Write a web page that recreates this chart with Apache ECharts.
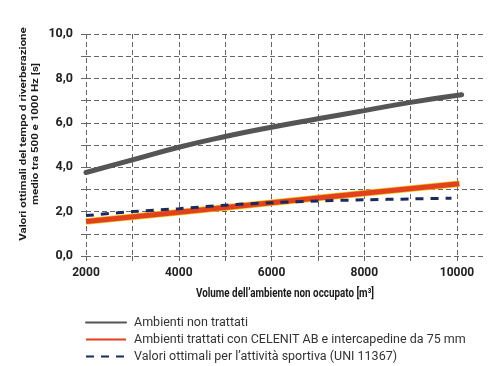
<!DOCTYPE html>
<html>
<head>
<meta charset="utf-8">
<script src="https://cdn.jsdelivr.net/npm/echarts@6/dist/echarts.min.js"></script>
<style>html,body{margin:0;padding:0;background:#fff}#c{width:501px;height:366px}</style>
</head>
<body>
<div id="c"></div>
<script>
var xTicks = [2000, 3000, 4000, 5000, 6000, 7000, 8000, 9000, 10000];
var xLabels = [2000, 4000, 6000, 8000, 10000];
var grayX = [2000, 3000, 4000, 5000, 6000, 7000, 8000, 9000, 10100];
var grayY = [3.76, 4.33, 4.90, 5.38, 5.80, 6.18, 6.55, 6.92, 7.26];
var redX = [2000, 4000, 6000, 8000, 10050];
var redY = [1.55, 1.97, 2.40, 2.83, 3.25];
var dashX = [2000, 3000, 4000, 5000, 6000, 7000, 8000, 9000, 9880];
var dashY = [1.82, 2.00, 2.13, 2.29, 2.40, 2.48, 2.53, 2.57, 2.60];
var names = ['Ambienti non trattati', 'Ambienti trattati con CELENIT AB e intercapedine da 75 mm', 'Valori ottimali per l\u2019attivit\u00e0 sportiva (UNI 11367)'];
var yTitle = ['Valori ottimali del tempo d riverberazione', 'medio tra 500 e 1000 Hz [s]'];
var xTitle = 'Volume dell\u2019ambiente non occupato [m\u00b3]';

function pairs(xs, ys) { return xs.map(function (x, i) { return [x, ys[i]]; }); }
var chart = echarts.init(document.getElementById('c'), null, {renderer: 'canvas'});
chart.setOption({
  animation: false,
  backgroundColor: '#fff',
  grid: {left: 86, right: 18, top: 34, bottom: 110, containLabel: false},
  graphic: [{
    type: 'text', x: 30, y: 134, rotation: Math.PI / 2, scaleY: 0.8,
    style: {text: yTitle.join('\n'), font: "bold 11.5px Roboto", fill: '#1a1a1a', align: 'center', verticalAlign: 'middle', lineHeight: 15}
  }, {
    type: 'text', x: 285, y: 294, scaleX: 0.82,
    style: {text: xTitle, font: "bold 12px Roboto", fill: '#1a1a1a', align: 'center', verticalAlign: 'middle'}
  }],
  xAxis: {
    type: 'value', min: 2000, max: 10560, interval: 1000,
    axisLine: {show: false},
    axisTick: {show: true, length: 6, customValues: xTicks, lineStyle: {color: '#666', type: [5, 3]}},
    axisLabel: {customValues: xLabels, margin: 11, fontFamily: 'Roboto', fontWeight: 'bold', fontSize: 12, color: '#222',
      formatter: function (v) { return String(v); }},
    splitLine: {show: true, lineStyle: {color: '#666', type: [5, 3], width: 1}}
  },
  yAxis: {
    type: 'value', min: 0, max: 10, interval: 1,
    axisLine: {show: false},
    axisTick: {show: true, length: 5, lineStyle: {color: '#666'}},
    axisLabel: {margin: 13, fontFamily: 'Roboto', fontWeight: 'bold', fontSize: 12.5, color: '#222',
      formatter: function (v) { return (Math.round(v) % 2 === 0) ? v.toFixed(1).replace('.', ',') : ''; }},
    splitLine: {show: true, lineStyle: {color: '#666', type: [5, 3], width: 1}}
  },
  legend: {
    orient: 'vertical', left: 85, top: 316, padding: 0, itemWidth: 40, itemHeight: 12, itemGap: 4,
    itemStyle: {opacity: 0},
    data: names,
    textStyle: {fontFamily: 'Roboto', fontSize: 12.5, color: '#333', padding: [0, 0, 0, 3]}
  },
  series: [
    {name: names[0], type: 'line', data: pairs(grayX, grayY), smooth: 0.5, showSymbol: false, symbol: 'none',
      lineStyle: {color: '#555', width: 5, cap: 'round'}, itemStyle: {color: '#555'}, z: 3},
    {name: '_edge', type: 'line', data: pairs(redX, redY), showSymbol: false, symbol: 'none', silent: true,
      lineStyle: {color: '#f2c40f', width: 6.5}, itemStyle: {color: '#f2c40f'}, z: 2},
    {name: names[1], type: 'line', data: pairs(redX, redY), showSymbol: false, symbol: 'none',
      lineStyle: {color: '#e2401e', width: 5}, itemStyle: {color: '#e2401e'}, z: 3},
    {name: names[2], type: 'line', data: pairs(dashX, dashY), smooth: 0.3, showSymbol: false, symbol: 'none',
      lineStyle: {color: '#1b2a5c', width: 3, type: [8, 7]}, itemStyle: {color: '#1b2a5c'}, z: 4}
  ]
});
</script>
</body>
</html>
